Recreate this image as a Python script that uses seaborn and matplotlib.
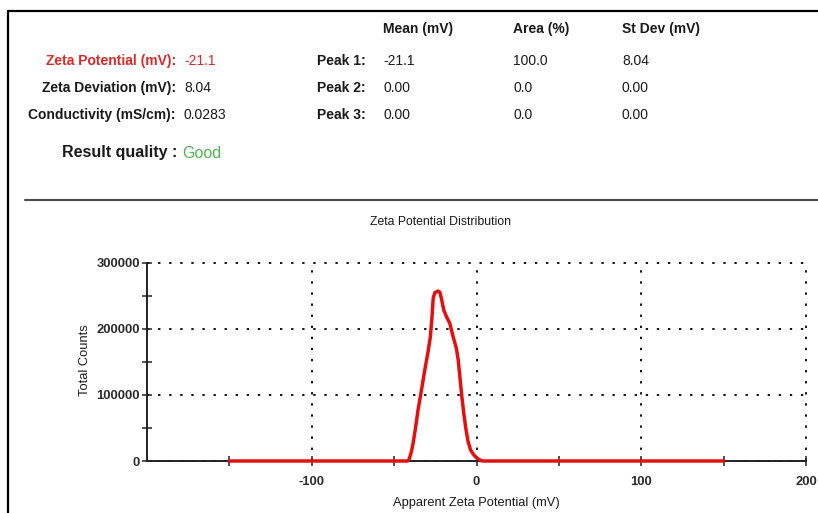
import matplotlib
matplotlib.use("Agg")
import matplotlib.pyplot as plt
import numpy as np
import pandas as pd
import seaborn as sns
from matplotlib.lines import Line2D
from matplotlib.ticker import FixedLocator

# ---- measurement summary ----
summary_labels = ["Zeta Potential (mV):", "Zeta Deviation (mV):", "Conductivity (mS/cm):"]
summary_values = ["-21.1", "8.04", "0.0283"]
quality_label = "Result quality :"
quality_value = "Good"

peak_names = ["Peak 1:", "Peak 2:", "Peak 3:"]
peak_headers = ["Mean (mV)", "Area (%)", "St Dev (mV)"]
peak_mean = ["-21.1", "0.00", "0.00"]
peak_area = ["100.0", "0.0", "0.0"]
peak_stdev = ["8.04", "0.00", "0.00"]

# ---- zeta potential distribution ----
zeta_mv = [-150, -41.9, -40.9, -39.5, -38.5, -36.9, -35.5, -33.4, -31.4, -29.4,
           -28.0, -27.0, -26.3, -25.3, -23.3, -22.3, -21.3, -19.9, -18.2, -16.2,
           -14.2, -12.2, -11.1, -10.1, -8.9, -7.7, -6.5, -5.1, -3.6, -1.6,
           0.4, 3.0, 4.1, 150]
total_counts = [0, 0, 2500, 14100, 26700, 51900, 77100, 107400, 137600, 165400,
                188100, 218300, 246000, 254600, 257100, 255600, 246000, 228400, 218300, 208200,
                188100, 170400, 152800, 127600, 97300, 72100, 49400, 29200, 16600, 9100,
                4000, 500, 0, 0]

x_major = [-100, 0, 100, 200]
x_minor = [-150, -50, 50, 150]
y_major = [0, 100000, 200000, 300000]
y_minor = [50000, 150000, 250000]

sns.set_style("white")
plt.rcParams["font.family"] = ["Liberation Sans", "DejaVu Sans"]

W, H = 818, 513
fig = plt.figure(figsize=(W / 100, H / 100), dpi=100)

def fx(px):
    return px / W

def fy(py):
    return 1 - py / H

TXT = "#1a1a1a"
RED = "#d42a2a"
GREEN = "#52b352"

# panel frame and separator
fig.add_artist(Line2D([fx(8), fx(8)], [fy(11), 0], color="black", lw=1.6))
fig.add_artist(Line2D([fx(8), 1], [fy(11), fy(11)], color="black", lw=1.6))
fig.add_artist(Line2D([fx(25), 1], [fy(200), fy(200)], color="#4a4a4a", lw=1.5))

# summary block
rows_y = [61, 88, 115]
for i, (lab, val) in enumerate(zip(summary_labels, summary_values)):
    c = RED if i == 0 else TXT
    fig.text(fx(176), fy(rows_y[i]), lab, ha="right", va="center",
             fontsize=10, fontweight="bold", color=c)
    fig.text(fx(184), fy(rows_y[i]), val, ha="left", va="center",
             fontsize=10, color=c)
fig.text(fx(177), fy(153), quality_label, ha="right", va="center",
         fontsize=11.5, fontweight="bold", color=TXT)
fig.text(fx(182), fy(154), quality_value, ha="left", va="center",
         fontsize=11.5, color=GREEN)

# peak table
col_x = [383, 513, 622]
for hx, h in zip(col_x, peak_headers):
    fig.text(fx(hx), fy(29), h, ha="left", va="center",
             fontsize=10, fontweight="bold", color=TXT)
for i, name in enumerate(peak_names):
    fig.text(fx(317), fy(rows_y[i]), name, ha="left", va="center",
             fontsize=10, fontweight="bold", color=TXT)
    for hx, col in zip(col_x, [peak_mean, peak_area, peak_stdev]):
        fig.text(fx(hx), fy(rows_y[i]), col[i], ha="left", va="center",
                 fontsize=10, color=TXT)

# distribution plot
ax = fig.add_axes([fx(147), fy(461), (806 - 147) / W, (461 - 262.7) / H])
df = pd.DataFrame({"Apparent Zeta Potential (mV)": zeta_mv, "Total Counts": total_counts})
sns.lineplot(data=df, x="Apparent Zeta Potential (mV)", y="Total Counts",
             ax=ax, color="#e41010", lw=2.5, sort=False, estimator=None)
for ln in ax.get_lines():
    ln.set_clip_on(False)
    ln.set_zorder(5)

ax.set_xlim(-200, 200)
ax.set_ylim(0, 300000)
ax.xaxis.set_major_locator(FixedLocator(x_major))
ax.xaxis.set_minor_locator(FixedLocator(x_minor))
ax.yaxis.set_major_locator(FixedLocator(y_major))
ax.yaxis.set_minor_locator(FixedLocator(y_minor))
ax.set_xticklabels([str(v) for v in x_major], fontweight="bold")
ax.set_yticklabels([str(v) for v in y_major], fontweight="bold")

for s in ["top", "right"]:
    ax.spines[s].set_visible(False)
for s in ["left", "bottom"]:
    ax.spines[s].set_color("#222222")
    ax.spines[s].set_linewidth(1.4)

ax.tick_params(axis="both", which="both", direction="inout", length=7, width=1.1,
               color="#222222", labelsize=9.4, labelcolor="#2a2a2a",
               bottom=True, left=True, top=False, right=False)
ax.tick_params(axis="x", which="major", pad=7.5)
ax.tick_params(axis="y", which="major", pad=1.5)

ax.grid(True, which="major", color="#111111", linestyle=(0, (1.2, 4.5)), lw=1.4)
for gl in ax.get_xgridlines() + ax.get_ygridlines():
    gl.set_clip_on(False)
ax.set_axisbelow(True)

ax.set_xlabel("Apparent Zeta Potential (mV)", fontsize=9.3, color=TXT)
ax.set_ylabel("Total Counts", fontsize=9.3, color=TXT)
ax.xaxis.set_label_coords(0.5, (461 - 497) / (461 - 262.7))
ax.yaxis.set_label_coords((91 - 147) / (806 - 147), 0.51)

fig.text(fx(440), fy(222), "Zeta Potential Distribution", ha="center", va="center",
         fontsize=8.8, color=TXT)

fig.savefig("out.png", dpi=100, facecolor="white")
